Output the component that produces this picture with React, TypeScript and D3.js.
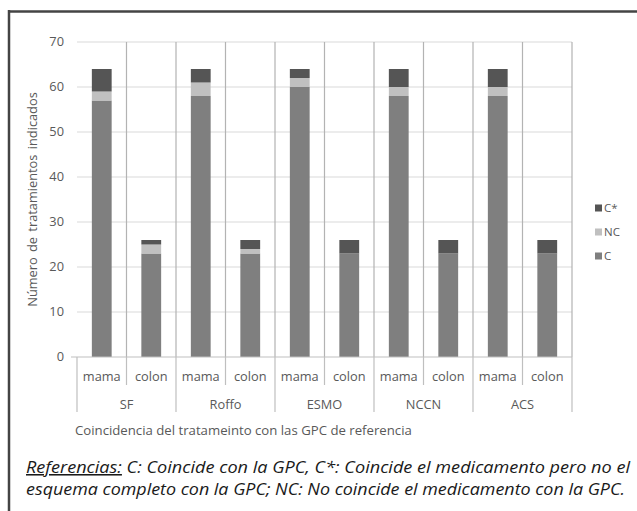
import { useEffect, useRef } from 'react'
import * as d3 from 'd3'

// Guides (outer axis level) and cancer type (inner level)
const guides = ['SF', 'Roffo', 'ESMO', 'NCCN', 'ACS']
const cancers = ['mama', 'colon']

// Stacked values, one per guide x cancer, in order
const valuesC = [57, 23, 58, 23, 60, 23, 58, 23, 58, 23]
const valuesNC = [2, 2, 3, 1, 2, 0, 2, 0, 2, 0]
const valuesCStar = [5, 1, 3, 2, 2, 3, 4, 3, 4, 3]

const yTicks = [0, 10, 20, 30, 40, 50, 60, 70]

const seriesKeys = ['C', 'NC', 'C*']
const seriesColors: Record<string, string> = { 'C': '#7f7f7f', 'NC': '#c0c0c0', 'C*': '#555555' }
const legendOrder = ['C*', 'NC', 'C']

const width = 637
const height = 511

export default function App() {
  const svgRef = useRef<SVGSVGElement>(null)

  useEffect(() => {
    if (!svgRef.current) return
    const root = d3.select(svgRef.current)
    root.selectAll('*').remove()

    const font = "'Open Sans', 'DejaVu Sans', sans-serif"
    const noteFont = "'Open Sans', 'DejaVu Sans', sans-serif"
    const textColor = '#595959'
    const fs = 12.8

    // outer frame: only top and left edges are visible
    root.append('line').attr('x1', 8).attr('x2', width).attr('y1', 11.5).attr('y2', 11.5)
      .attr('stroke', '#444').attr('stroke-width', 2.5)
    root.append('line').attr('x1', 9).attr('x2', 9).attr('y1', 10).attr('y2', height)
      .attr('stroke', '#444').attr('stroke-width', 2.5)

    const margin = { left: 77, right: 572, top: 42, bottom: 357 }

    const rows = guides.flatMap(g => cancers.map(c => ({ guide: g, cancer: c })))
    const data = rows.map((r, i) => ({
      key: `${r.guide}-${r.cancer}`,
      ...r,
      'C': valuesC[i],
      'NC': valuesNC[i],
      'C*': valuesCStar[i],
    }))

    const x = d3.scaleBand<string>()
      .domain(data.map(d => d.key))
      .range([margin.left, margin.right])
      .padding(0)

    const y = d3.scaleLinear().domain([0, 70]).range([margin.bottom, margin.top])

    const g = root.append('g')

    // horizontal gridlines
    g.selectAll('.hgrid')
      .data(yTicks.filter(t => t > 0))
      .join('line')
      .attr('x1', margin.left).attr('x2', margin.right)
      .attr('y1', d => y(d)).attr('y2', d => y(d))
      .attr('stroke', '#d9d9d9').attr('stroke-width', 1.2)

    // vertical gridlines between categories
    const edges = data.map(d => x(d.key) as number).concat([margin.right])
    g.selectAll('.vgrid')
      .data(edges.slice(1))
      .join('line')
      .attr('x1', d => d).attr('x2', d => d)
      .attr('y1', margin.top).attr('y2', margin.bottom)
      .attr('stroke', '#b3b3b3').attr('stroke-width', 1.2)

    // stacked bars
    const stack = d3.stack<any>().keys(seriesKeys)(data)
    const barW = x.bandwidth() * 0.4
    g.selectAll('.series')
      .data(stack)
      .join('g')
      .attr('fill', d => seriesColors[d.key])
      .selectAll('rect')
      .data(d => d)
      .join('rect')
      .attr('x', d => (x(d.data.key) as number) + (x.bandwidth() - barW) / 2)
      .attr('width', barW)
      .attr('y', d => y(d[1]))
      .attr('height', d => y(d[0]) - y(d[1]))

    // zero axis
    g.append('line')
      .attr('x1', margin.left - 6).attr('x2', margin.right)
      .attr('y1', margin.bottom).attr('y2', margin.bottom)
      .attr('stroke', '#bfbfbf').attr('stroke-width', 1.2)

    // y tick labels
    g.selectAll('.ytick')
      .data(yTicks)
      .join('text')
      .attr('x', 64)
      .attr('y', d => y(d))
      .attr('dy', '0.35em')
      .attr('text-anchor', 'end')
      .attr('font-family', font).attr('font-size', fs)
      .attr('fill', textColor)
      .text(d => d)

    // y axis title
    g.append('text')
      .attr('transform', `translate(37, ${(margin.top + margin.bottom) / 2}) rotate(-90)`)
      .attr('text-anchor', 'middle')
      .attr('font-family', font).attr('font-size', fs)
      .attr('word-spacing', 2)
      .attr('fill', textColor)
      .text('Número de tratamientos indicados')

    // category labels (inner level)
    g.selectAll('.xcat')
      .data(data)
      .join('text')
      .attr('x', d => (x(d.key) as number) + x.bandwidth() / 2)
      .attr('y', 381)
      .attr('text-anchor', 'middle')
      .attr('font-family', font).attr('font-size', fs)
      .attr('fill', textColor)
      .text(d => d.cancer)

    // separators: within-group short, between-group long
    g.selectAll('.xsep')
      .data(edges.map((e, i) => ({ e, i })))
      .join('line')
      .attr('x1', d => d.e).attr('x2', d => d.e)
      .attr('y1', margin.bottom)
      .attr('y2', d => (d.i % cancers.length === 0 ? 412 : 385))
      .attr('stroke', '#bfbfbf').attr('stroke-width', 1.2)

    // group labels (outer level)
    g.selectAll('.xgroup')
      .data(guides)
      .join('text')
      .attr('x', d => {
        const a = x(`${d}-${cancers[0]}`) as number
        const b = (x(`${d}-${cancers[cancers.length - 1]}`) as number) + x.bandwidth()
        return (a + b) / 2
      })
      .attr('y', 409)
      .attr('text-anchor', 'middle')
      .attr('font-family', font).attr('font-size', fs)
      .attr('fill', textColor)
      .text(d => d)

    // x axis title
    g.append('text')
      .attr('x', 75).attr('y', 435)
      .attr('font-family', font).attr('font-size', 13.2)
      .attr('fill', textColor)
      .text('Coincidencia del tratameinto con las GPC de referencia')

    // legend
    const legend = g.selectAll('.legend')
      .data(legendOrder)
      .join('g')
      .attr('transform', (d, i) => `translate(595, ${208 + i * 24})`)
    legend.append('rect')
      .attr('x', 0).attr('y', -3.5).attr('width', 7).attr('height', 7)
      .attr('fill', d => seriesColors[d])
    legend.append('text')
      .attr('x', 9).attr('dy', '0.35em')
      .attr('font-family', font).attr('font-size', 11.5)
      .attr('fill', textColor)
      .text(d => d)

    // footnote
    const note1 = g.append('text')
      .attr('x', 26).attr('y', 473)
      .attr('font-family', noteFont).attr('font-size', 15.5).attr('font-style', 'italic')
      .attr('fill', '#1a1a1a')
      .attr('textLength', 604).attr('lengthAdjust', 'spacingAndGlyphs')
    note1.append('tspan').attr('text-decoration', 'underline').text('Referencias:')
    note1.append('tspan').text(' C: Coincide con la GPC, C*: Coincide el medicamento pero no el')
    g.append('text')
      .attr('x', 26).attr('y', 495)
      .attr('font-family', noteFont).attr('font-size', 15.5).attr('font-style', 'italic')
      .attr('fill', '#1a1a1a')
      .attr('textLength', 599).attr('lengthAdjust', 'spacingAndGlyphs')
      .text('esquema completo con la GPC; NC: No coincide el medicamento con la GPC.')
  }, [])

  return (
    <div style={{ position: 'absolute', left: 0, top: 0 }}>
      <svg ref={svgRef} width={width} height={height} style={{ display: 'block', background: '#fff' }} />
    </div>
  )
}
